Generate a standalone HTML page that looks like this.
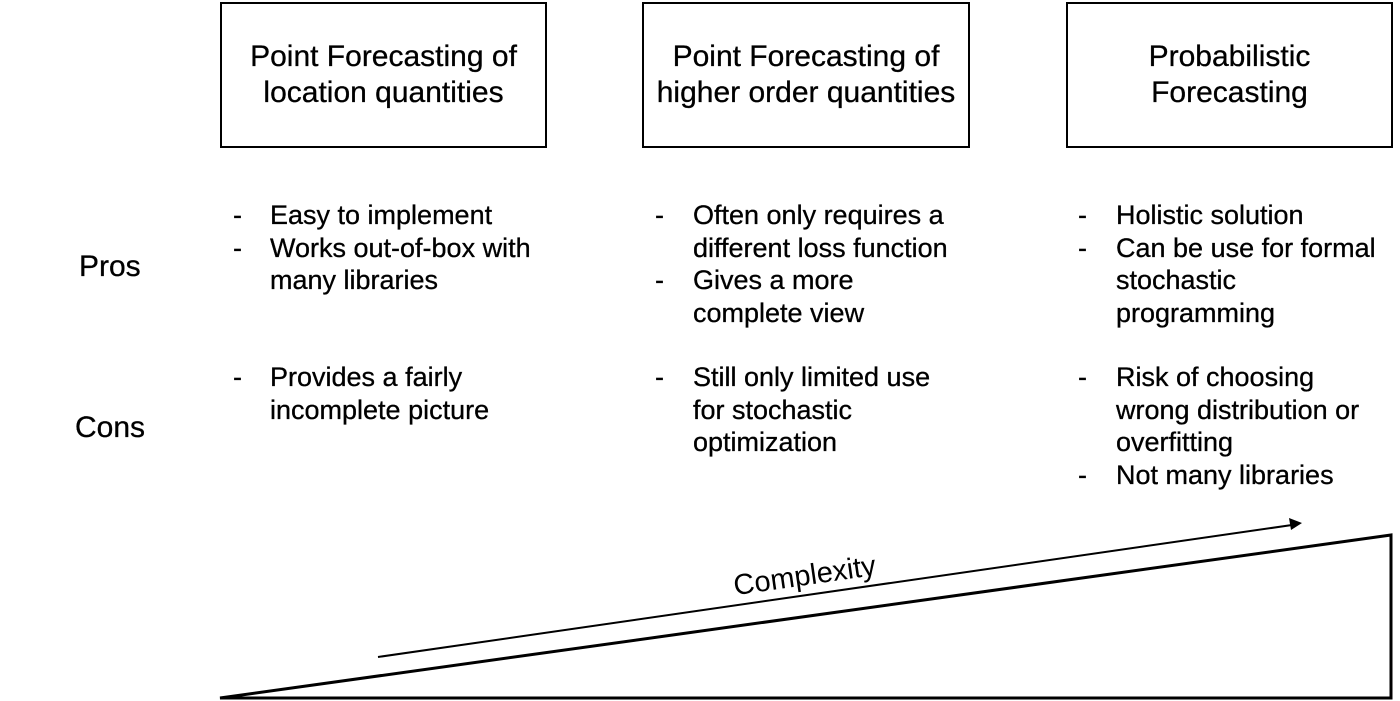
<!DOCTYPE html>
<html><head><style>
body{margin:0;width:1400px;height:701px;background:#fff;position:relative;overflow:hidden;font-family:"Liberation Sans",Arial,sans-serif;color:#000;-webkit-text-stroke:0.3px #000}
.box{position:absolute;top:2px;border:2px solid #000;display:flex;align-items:center;justify-content:center;text-align:center;font-size:30px;line-height:36px;box-sizing:content-box;height:142px}
.t{position:absolute;font-size:27px;line-height:32.5px;white-space:nowrap}
.d{position:absolute;font-size:27px;line-height:32.5px}
.lbl{position:absolute;font-size:30px}
</style></head><body>
<div class="box" style="left:220px;width:323px">Point Forecasting of<br>location quantities</div>
<div class="box" style="left:642px;width:324px">Point Forecasting of<br>higher order quantities</div>
<div class="box" style="left:1066px;width:323px">Probabilistic<br>Forecasting</div>
<div class="lbl" style="left:79px;top:250px">Pros</div>
<div class="lbl" style="left:75px;top:411px">Cons</div>

<div class="d" style="left:233px;top:199px">-<br>-</div>
<div class="t" style="left:270px;top:199px">Easy to implement<br>Works out-of-box with<br>many libraries</div>
<div class="d" style="left:233px;top:361px">-</div>
<div class="t" style="left:270px;top:361px">Provides a fairly<br>incomplete picture</div>

<div class="d" style="left:655px;top:199px">-<br><br>-</div>
<div class="t" style="left:693px;top:199px">Often only requires a<br>different loss function<br>Gives a more<br>complete view</div>
<div class="d" style="left:655px;top:361px">-</div>
<div class="t" style="left:693px;top:361px">Still only limited use<br>for stochastic<br>optimization</div>

<div class="d" style="left:1078px;top:199px">-<br>-</div>
<div class="t" style="left:1116px;top:199px">Holistic solution<br>Can be use for formal<br>stochastic<br>programming</div>
<div class="d" style="left:1078px;top:361px">-<br><br><br>-</div>
<div class="t" style="left:1116px;top:361px">Risk of choosing<br>wrong distribution or<br>overfitting<br>Not many libraries</div>

<svg style="position:absolute;left:0;top:0" width="1400" height="701">
<polygon points="220,698 1391,535 1391,698" fill="none" stroke="#000" stroke-width="3"/>
<line x1="378" y1="657" x2="1292" y2="525" stroke="#000" stroke-width="2"/>
<polygon points="1302,523 1289,518 1291,530" fill="#000"/>
<text x="806" y="585" font-size="29" text-anchor="middle" transform="rotate(-8.2 806 585)" font-family="Liberation Sans,Arial,sans-serif">Complexity</text>
</svg>
</body></html>
